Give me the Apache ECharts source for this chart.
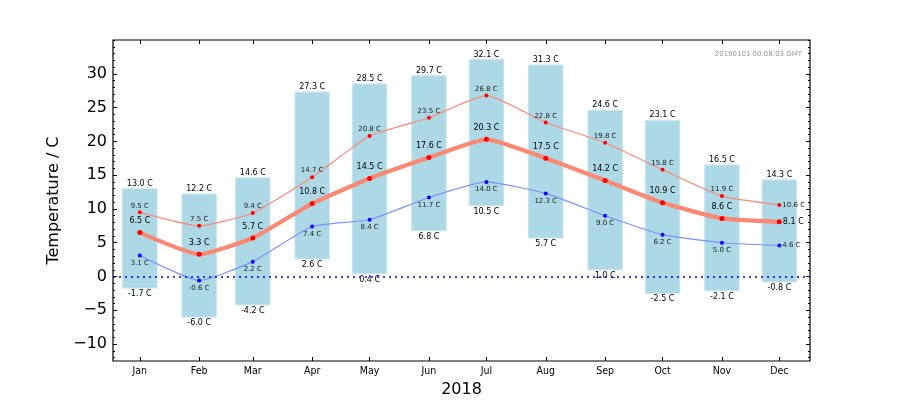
<!DOCTYPE html>
<html>
<head>
<meta charset="utf-8">
<script src="https://cdn.jsdelivr.net/npm/echarts@6/dist/echarts.min.js"></script>
<style>
  html, body { margin: 0; padding: 0; background: #fff; }
  #chart { width: 900px; height: 400px; }
</style>
</head>
<body>
<div id="chart"></div>
<script>
// monthly data, 2018
var months = ['2018-01-01', '2018-02-01', '2018-03-01', '2018-04-01', '2018-05-01', '2018-06-01',
              '2018-07-01', '2018-08-01', '2018-09-01', '2018-10-01', '2018-11-01', '2018-12-01'];
var monthLabels = ['Jan', 'Feb', 'Mar', 'Apr', 'May', 'Jun', 'Jul', 'Aug', 'Sep', 'Oct', 'Nov', 'Dec'];
var absMax = [13.0, 12.2, 14.6, 27.3, 28.5, 29.7, 32.1, 31.3, 24.6, 23.1, 16.5, 14.3];
var absMin = [-1.7, -6.0, -4.2, 2.6, 0.4, 6.8, 10.5, 5.7, 1.0, -2.5, -2.1, -0.8];
var meanMax = [9.5, 7.5, 9.4, 14.7, 20.8, 23.5, 26.8, 22.8, 19.8, 15.8, 11.9, 10.6];
var meanTemp = [6.5, 3.3, 5.7, 10.8, 14.5, 17.6, 20.3, 17.5, 14.2, 10.9, 8.6, 8.1];
var meanMin = [3.1, -0.6, 2.2, 7.4, 8.4, 11.7, 14.0, 12.3, 9.0, 6.2, 5.0, 4.6];
var yTicks = [-10, -5, 0, 5, 10, 15, 20, 25, 30];
var stamp = '20190101 00:08:03 GMT';

var DAY = 24 * 3600 * 1000;
var X_MIN = Date.parse('2017-12-18');
var X_MAX = Date.parse('2018-12-17');
var Y_MIN = -12.5;
var Y_MAX = 35;
var FONT = '"DejaVu Sans", sans-serif';
// x is a plain value axis in epoch ms, so custom tick values work
var monthTimes = months.map(function (m) { return Date.parse(m); });
var yMinorTicks = [];
for (var t = Math.ceil(Y_MIN); t <= Y_MAX; t++) yMinorTicks.push(t);

function fmt(v) {
    return v.toFixed(1) + ' C';
}

/**
 * Line data with the last point's label put to the right.
 * @param {number[]} values
 * @returns {object[]}
 */
function lineData(values) {
    return values.map(function (v, i) {
        var item = { value: [monthTimes[i], v] };
        if (i === values.length - 1) {
            item.label = { position: 'right', distance: 1 };
        }
        return item;
    });
}

function renderBar(params, api) {
    var x = api.value(0);
    var lo = api.coord([x, api.value(1)]);
    var hi = api.coord([x, api.value(2)]);
    var left = api.coord([x - 9 * DAY, 0])[0];
    var right = api.coord([x + 9 * DAY, 0])[0];
    return {
        type: 'group',
        children: [
            {
                type: 'rect',
                shape: { x: left, y: hi[1], width: right - left, height: lo[1] - hi[1] },
                style: { fill: '#add8e6', stroke: '#c9e6ef', lineWidth: 1 }
            },
            {
                type: 'text',
                style: {
                    x: lo[0], y: hi[1] - 1, text: fmt(api.value(2)),
                    align: 'center', verticalAlign: 'bottom',
                    font: '8px ' + FONT, fill: '#000'
                }
            },
            {
                type: 'text',
                style: {
                    x: lo[0], y: lo[1] + 2, text: fmt(api.value(1)),
                    align: 'center', verticalAlign: 'top',
                    font: '8px ' + FONT, fill: '#000'
                }
            }
        ]
    };
}

var barData = monthTimes.map(function (t, i) {
    return [t, absMin[i], absMax[i]];
});

var tickStyle = { show: true, inside: true, length: 4, lineStyle: { color: '#000' } };
var minorTickStyle = { show: true, inside: true, length: 2, customValues: yMinorTicks, lineStyle: { color: '#000' } };
var baseX = { type: 'value', min: X_MIN, max: X_MAX, splitLine: { show: false },
    axisLine: { show: false, onZero: false } };
var baseY = { type: 'value', min: Y_MIN, max: Y_MAX, splitLine: { show: false },
    axisLine: { show: false, onZero: false } };

var options = {
    animation: false,
    backgroundColor: '#fff',
    textStyle: { fontFamily: FONT },
    grid: { left: 113, right: 90, top: 40, bottom: 39, outerBoundsMode: 'none', containLabel: false,
            show: true, borderColor: '#000', borderWidth: 1.2 },
    graphic: [{
        type: 'text', right: 98, top: 51,
        style: { text: stamp, font: '7px ' + FONT, fill: '#999' }
    }],
    xAxis: [
        Object.assign({}, baseX, {
            position: 'bottom',
            name: '2018', nameLocation: 'middle', nameGap: 19,
            nameTextStyle: { fontSize: 16, color: '#000', fontFamily: FONT },
            axisTick: Object.assign({ customValues: monthTimes }, tickStyle),
            axisLabel: {
                customValues: monthTimes,
                formatter: function (v) { return monthLabels[monthTimes.indexOf(v)] || ''; },
                color: '#000', fontSize: 10.5, margin: 5,
                fontFamily: '"DejaVu Sans Condensed", "DejaVu Sans", sans-serif'
            }
        }),
        Object.assign({}, baseX, {
            position: 'top',
            axisTick: Object.assign({ customValues: monthTimes }, tickStyle),
            axisLabel: { show: false }
        })
    ],
    yAxis: [
        Object.assign({}, baseY, {
            position: 'left',
            name: 'Temperature / C', nameLocation: 'middle', nameGap: 43,
            nameTextStyle: { fontSize: 16, color: '#000', fontFamily: FONT },
            axisTick: Object.assign({ customValues: yTicks }, tickStyle),
            axisLabel: {
                customValues: yTicks,
                color: '#000', fontSize: 16, margin: 6,
                formatter: function (v) { return String(v).replace('-', '\u2212'); }
            }
        }),
        Object.assign({}, baseY, {
            position: 'right',
            axisTick: Object.assign({ customValues: yTicks }, tickStyle),
            axisLabel: { show: false }
        }),
        // minor ticks
        Object.assign({}, baseY, { position: 'left', axisLabel: { show: false }, axisTick: minorTickStyle }),
        Object.assign({}, baseY, { position: 'right', axisLabel: { show: false }, axisTick: minorTickStyle })
    ],
    series: [
        {
            name: 'range',
            type: 'custom',
            renderItem: renderBar,
            data: barData,
            encode: { x: 0, y: [1, 2] },
            z: 1,
            markLine: {
                silent: true, symbol: 'none', label: { show: false },
                lineStyle: { color: '#0000ff', type: [2, 4], width: 1.5 },
                data: [{ yAxis: 0 }]
            }
        },
        {
            name: 'mean max',
            type: 'line',
            data: lineData(meanMax),
            smooth: 0.15,
            z: 3,
            symbol: 'circle', symbolSize: 4,
            itemStyle: { color: '#ff0000' },
            lineStyle: { color: '#fa8a78', width: 1.2 },
            label: { show: true, position: 'top', distance: 1, fontSize: 7, color: '#222',
                     formatter: function (p) { return fmt(p.value[1]); } }
        },
        {
            name: 'mean',
            type: 'line',
            data: lineData(meanTemp),
            smooth: 0.15,
            z: 3,
            symbol: 'circle', symbolSize: 5,
            itemStyle: { color: '#ff0000' },
            lineStyle: { color: '#fa8872', width: 4.2 },
            label: { show: true, position: 'top', distance: 5, fontSize: 8, color: '#000',
                     formatter: function (p) { return fmt(p.value[1]); } }
        },
        {
            name: 'mean min',
            type: 'line',
            data: lineData(meanMin),
            smooth: 0.15,
            z: 3,
            symbol: 'circle', symbolSize: 4,
            itemStyle: { color: '#0000ff' },
            lineStyle: { color: '#7a92ff', width: 1.2 },
            label: { show: true, position: 'bottom', distance: 2, fontSize: 7, color: '#222',
                     formatter: function (p) { return fmt(p.value[1]); } }
        }
    ]
};

var chart = echarts.init(document.getElementById('chart'));
chart.setOption(options);
</script>
</body>
</html>
